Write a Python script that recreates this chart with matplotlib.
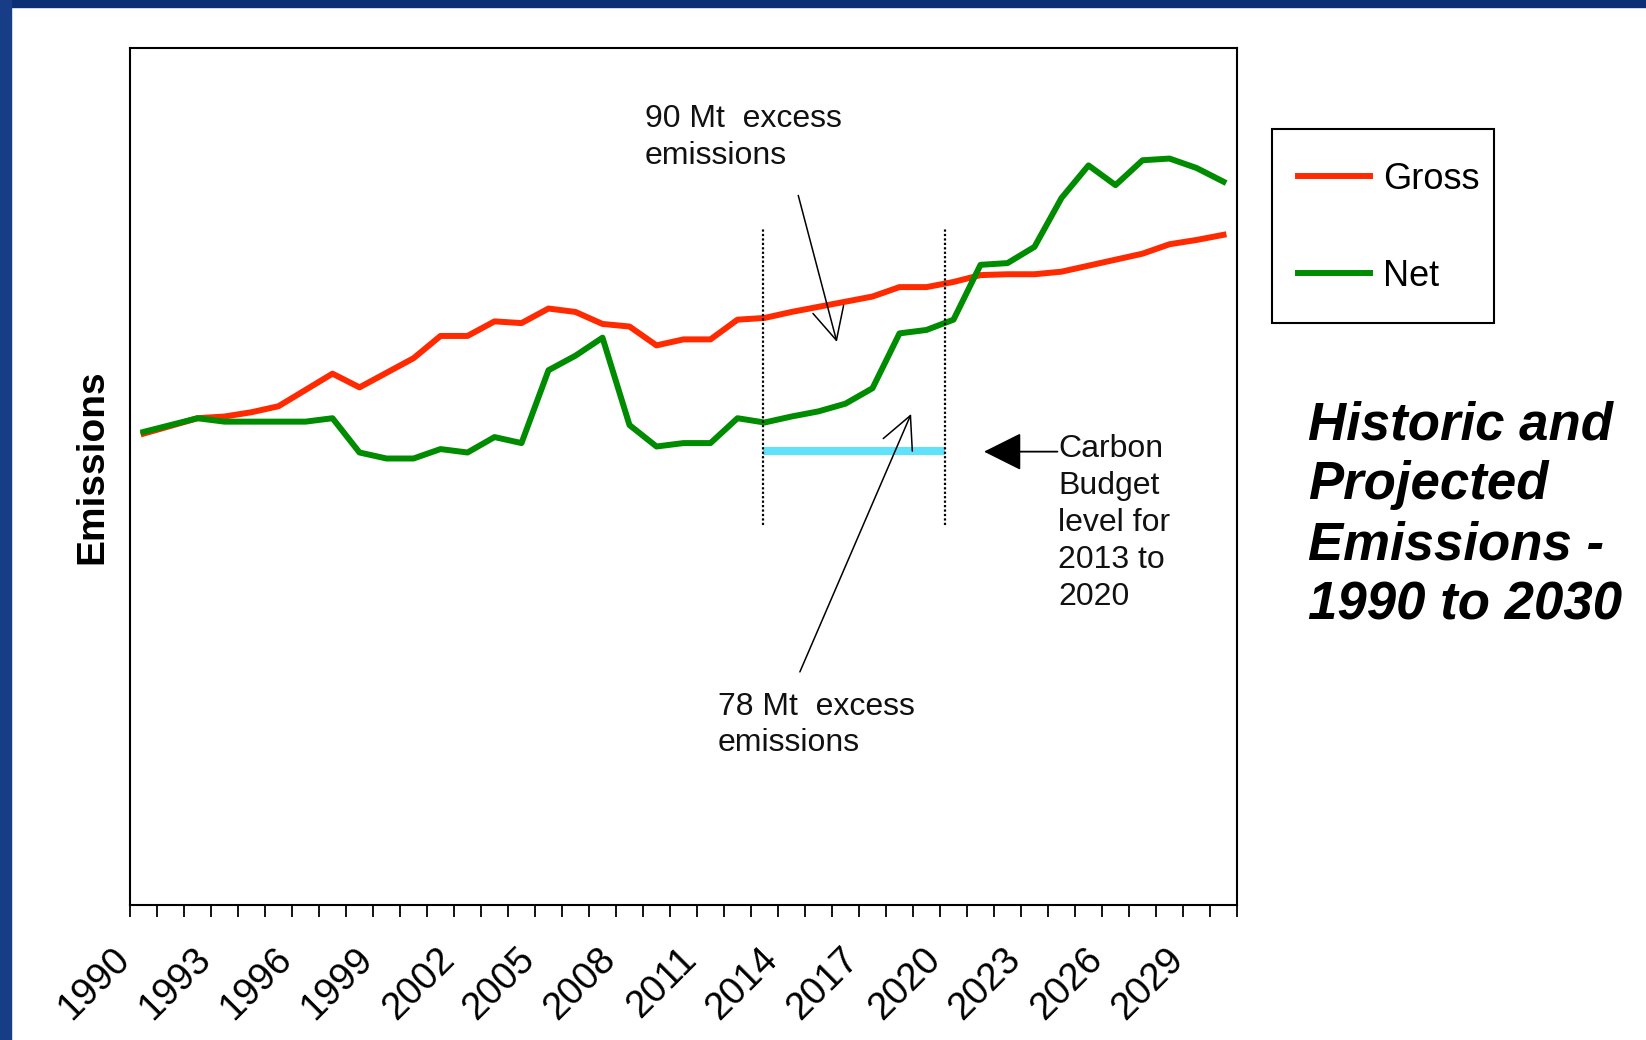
import numpy as np
import matplotlib
matplotlib.use("Agg")
import matplotlib.pyplot as plt
from matplotlib.patches import Rectangle
from matplotlib.transforms import ScaledTranslation

plt.rcParams['font.family'] = ['Liberation Sans', 'DejaVu Sans']

# ---------------- data (arbitrary emission units, no y scale shown) ----------------
years = list(range(1990, 2031))
gross = [55.0, 55.9, 56.8, 57.0, 57.5, 58.2, 60.1, 62.0, 60.4, 62.1,
         63.8, 66.4, 66.4, 68.1, 67.9, 69.6, 69.2, 67.8, 67.5, 65.3,
         66.0, 66.0, 68.3, 68.5, 69.2, 69.8, 70.4, 71.0, 72.1, 72.1,
         72.7, 73.5, 73.6, 73.6, 73.9, 74.6, 75.3, 76.0, 77.1, 77.6, 78.2]
net = [55.2, 56.0, 56.8, 56.4, 56.4, 56.4, 56.4, 56.8, 52.8, 52.1,
       52.1, 53.2, 52.8, 54.6, 53.9, 62.4, 64.1, 66.2, 56.0, 53.5,
       53.9, 53.9, 56.8, 56.3, 57.0, 57.6, 58.5, 60.3, 66.7, 67.1,
       68.3, 74.7, 74.9, 76.8, 82.5, 86.3, 84.0, 86.9, 87.1, 86.0, 84.4]
label_years = list(range(1990, 2030, 3))
budget_level = 53.0
budget_period = (2012.93, 2019.67)
guide_range = (44.3, 78.9)

fig = plt.figure(figsize=(16.46, 10.40), dpi=100)
fig.patch.set_facecolor('white')

# slide border (blue strips on top and left)
fig.patches.append(Rectangle((0, 1 - 7 / 1040), 1, 7 / 1040, transform=fig.transFigure,
                             color='#0c2e76', zorder=0))
fig.patches.append(Rectangle((0, 0), 11 / 1646, 1, transform=fig.transFigure,
                             color='#163d86', zorder=0))

ax = fig.add_axes([130 / 1646, 135 / 1040, 1107 / 1646, 857 / 1040])

ax.plot(years, gross, color='#ff2a00', lw=4.3, label='Gross', zorder=3)
ax.plot(years, net, color='#008c00', lw=4.3, label='Net', zorder=4)

# carbon budget level and period guides
ax.hlines(budget_level, budget_period[0], budget_period[1], color='#5fe3fa', lw=5.8, zorder=2)
ax.vlines(budget_period, guide_range[0], guide_range[1], color='black', lw=1.6,
          linestyles=(0, (1, 1.0)), zorder=5)

ax.set_xlim(years[0] - 0.5, years[-1] + 0.5)
ax.set_ylim(0, 100)
ax.set_yticks([])

# ticks between categories, labels every third year
ax.set_xticks(np.arange(years[0] - 0.5, years[-1] + 1), minor=True)
ax.set_xticks(label_years)
ax.set_xticklabels([str(y) for y in label_years], rotation=45, ha='right', va='center',
                   rotation_mode='anchor', fontsize=27.5)
ax.tick_params(axis='x', which='minor', direction='out', length=8.5, width=1.3, color='black')
ax.tick_params(axis='x', which='major', length=0, pad=35)
shift = ScaledTranslation(-19 / 100, 0, fig.dpi_scale_trans)
for lab in ax.get_xticklabels():
    lab.set_transform(lab.get_transform() + shift)

for s in ax.spines.values():
    s.set_linewidth(1.5)
    s.set_color('black')

# annotations
ann_kw = dict(fontsize=23, color='#111111', linespacing=1.3)
ax.annotate('', xy=(2015.68, 65.7), xytext=(2014.25, 82.8),
            arrowprops=dict(arrowstyle='->,head_length=1.15,head_width=0.57',
                            color='black', lw=1.1, mutation_scale=20, shrinkA=0, shrinkB=0),
            zorder=6)
ax.text(2008.56, 89.6, '90 Mt  excess\nemissions', ha='left', va='center', **ann_kw)

ax.annotate('', xy=(2018.43, 57.3), xytext=(2014.31, 27.2),
            arrowprops=dict(arrowstyle='->,head_length=1.15,head_width=0.57',
                            color='black', lw=1.1, mutation_scale=20, shrinkA=0, shrinkB=0),
            zorder=6)
ax.text(2011.28, 21.0, '78 Mt  excess\nemissions', ha='left', va='center', **ann_kw)

ax.annotate('', xy=(2021.13, 52.9), xytext=(2023.85, 52.9),
            arrowprops=dict(arrowstyle='-|>,head_length=1.2,head_width=0.6',
                            color='black', lw=1.3, mutation_scale=20, shrinkA=0, shrinkB=0),
            zorder=6)
ax.text(2023.87, 44.6, 'Carbon\nBudget\nlevel for\n2013 to\n2020', ha='left', va='center', **ann_kw)

fig.text(92 / 1646, 1 - 467 / 1040, 'Emissions', rotation=90, ha='center', va='center',
         fontsize=28, fontweight='bold')

# legend with a hand-placed frame
fig.patches.append(Rectangle((1272 / 1646, 1 - 323 / 1040), 222 / 1646, 194 / 1040,
                             transform=fig.transFigure, fill=False, edgecolor='black',
                             lw=1.5, zorder=1))
fig.legend(loc='upper left', bbox_to_anchor=(1298 / 1646, 1 - 162 / 1040),
           bbox_transform=fig.transFigure, fontsize=26, frameon=False,
           handlelength=2.0, handletextpad=0.35, labelspacing=1.72, borderpad=0,
           borderaxespad=0)

fig.text(1308 / 1646, 1 - 400 / 1040, 'Historic and\nProjected\nEmissions -\n1990 to 2030',
         ha='left', va='top', fontsize=38, fontweight='bold', fontstyle='italic',
         linespacing=1.26)

fig.savefig('out.png', dpi=100)
